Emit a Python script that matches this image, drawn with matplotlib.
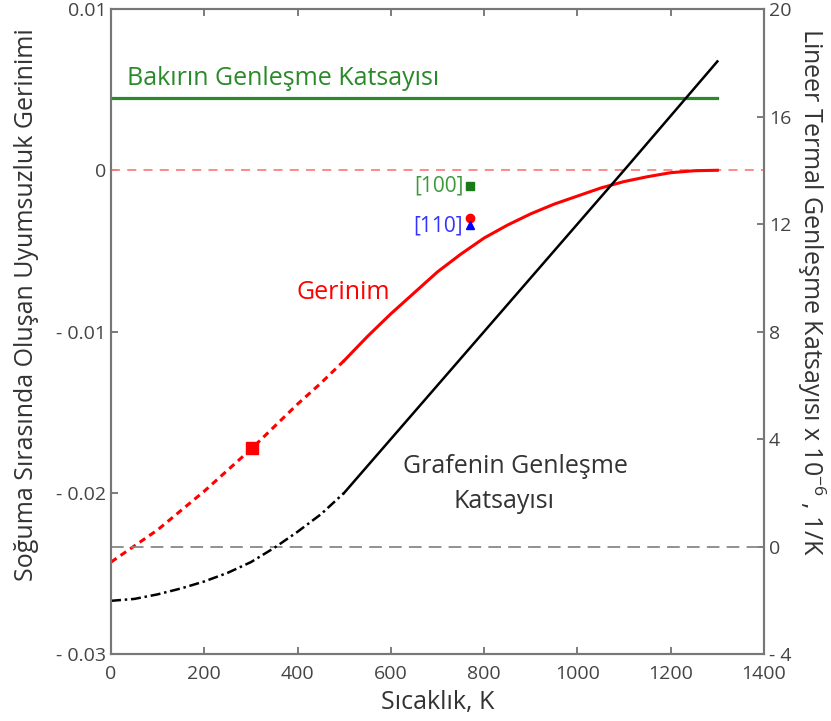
import matplotlib.pyplot as plt

plt.rcParams['font.family'] = ['Open Sans', 'DejaVu Sans']
plt.rcParams['mathtext.default'] = 'regular'

# Gerinim (sol eksen) - kesikli kısım ve düz kısım
T_strain_low = [0, 50, 100, 150, 200, 250, 300, 350, 400, 450, 500]
strain_low = [-0.0243, -0.0233, -0.0223, -0.0211, -0.0199, -0.0186, -0.0173, -0.0159, -0.0145, -0.0132, -0.0118]
T_strain_high = [500, 550, 600, 650, 700, 750, 800, 850, 900, 950, 1000, 1050, 1100, 1150, 1200, 1250, 1300]
strain_high = [-0.0118, -0.0103, -0.0089, -0.0076, -0.0063, -0.0052, -0.0042, -0.0034, -0.0027, -0.0021,
               -0.0016, -0.0011, -0.0007, -0.0004, -0.00015, -0.00003, 0.0]

# Grafenin genleşme katsayısı (sağ eksen)
T_gr_low = [0, 50, 100, 150, 200, 250, 300, 350, 400, 450, 500]
alpha_gr_low = [-2.02, -1.95, -1.78, -1.56, -1.30, -0.98, -0.58, -0.05, 0.55, 1.2, 2.0]
T_gr_high = [500, 700, 900, 1100, 1300]
alpha_gr_high = [2.0, 6.0, 10.0, 14.0, 18.05]

# Bakırın genleşme katsayısı
T_cu = [0, 1300]
alpha_cu = [16.7, 16.7]

# Tekil noktalar
T_pts = 770
strain_100 = -0.00099
strain_110_circle = -0.00294
strain_110_tri = -0.0034
T_room = 302
strain_room = -0.0172

fig = plt.figure(figsize=(8.31, 7.21), dpi=100)
ax = fig.add_axes([0.1336, 0.0929, 0.7858, 0.8946])
ax2 = ax.twinx()

# sol eksen
ax.axhline(0, color='#ff8080', lw=1.3, dashes=(5, 4))
ax.plot(T_strain_low, strain_low, color='red', lw=2.2, dashes=(2.2, 1.6))
ax.plot(T_strain_high, strain_high, color='red', lw=2.2)
ax.plot(T_room, strain_room, marker='s', color='red', ms=8)
ax.plot(T_pts, strain_100, marker='s', color='#1a7a1a', ms=5.5)
ax.plot(T_pts, strain_110_circle, marker='o', color='red', ms=6)
ax.plot(T_pts, strain_110_tri, marker='^', color='blue', ms=6)
ax.text(T_pts - 15, -0.0013, '[100]', color='#3a9a3a', fontsize=15, ha='right', va='baseline')
ax.text(T_pts - 15, -0.0038, '[110]', color='#3333ff', fontsize=15, ha='right', va='baseline')
ax.text(497, -0.0080, 'Gerinim', color='red', fontsize=18, ha='center', va='baseline')

# sağ eksen
ax2.axhline(0, color='#888888', lw=1.3, dashes=(7, 4))
ax2.plot(T_cu, alpha_cu, color='#2a8a2a', lw=2.3)
ax2.plot(T_gr_low, alpha_gr_low, color='black', lw=1.8, dashes=(4, 1.5, 1, 1.5))
ax2.plot(T_gr_high, alpha_gr_high, color='black', lw=1.8)
ax2.text(35, 17.16, 'Bakırın Genleşme Katsayısı', color='#2a8a2a', fontsize=18, ha='left', va='baseline')
ax2.text(866, 2.75, 'Grafenin Genleşme', color='#333333', fontsize=18, ha='center', va='baseline')
ax2.text(842, 1.45, 'Katsayısı', color='#333333', fontsize=18, ha='center', va='baseline')

ax.set_xlim(0, 1400)
ax.set_ylim(-0.03, 0.01)
ax2.set_ylim(-4, 20)

ax.set_xticks([0, 200, 400, 600, 800, 1000, 1200, 1400])
ax.set_yticks([-0.03, -0.02, -0.01, 0, 0.01])
ax.set_yticklabels(['- 0.03', '- 0.02', '- 0.01', '0', '0.01'])
ax2.set_yticks([-4, 0, 4, 8, 12, 16, 20])
ax2.set_yticklabels(['- 4', '0', '4', '8', '12', '16', '20'])

ax.tick_params(axis='both', direction='in', length=5, width=1.2, color='#666666',
               labelsize=14, labelcolor='#444444', top=True)
ax.tick_params(axis='x', pad=8)
ax2.tick_params(axis='y', direction='in', length=5, width=1.2, color='#666666',
                labelsize=14, labelcolor='#444444')

for a in (ax, ax2):
    for s in a.spines.values():
        s.set_color('#777777')
        s.set_linewidth(1.5)

ax.set_xlabel('Sıcaklık, K', fontsize=18, color='#333333', labelpad=5)
ax.set_ylabel('Soğuma Sırasında Oluşan Uyumsuzluk Gerinimi', fontsize=18, color='#333333', labelpad=12)
ax.yaxis.label.set_y(0.541)
ax2.set_ylabel('Lineer Termal Genleşme Katsayısı x 10$^{-6}$ , 1/K', fontsize=18,
               color='#333333', rotation=270, labelpad=26)
ax2.yaxis.label.set_y(0.561)

fig.savefig('out.png', dpi=100)
